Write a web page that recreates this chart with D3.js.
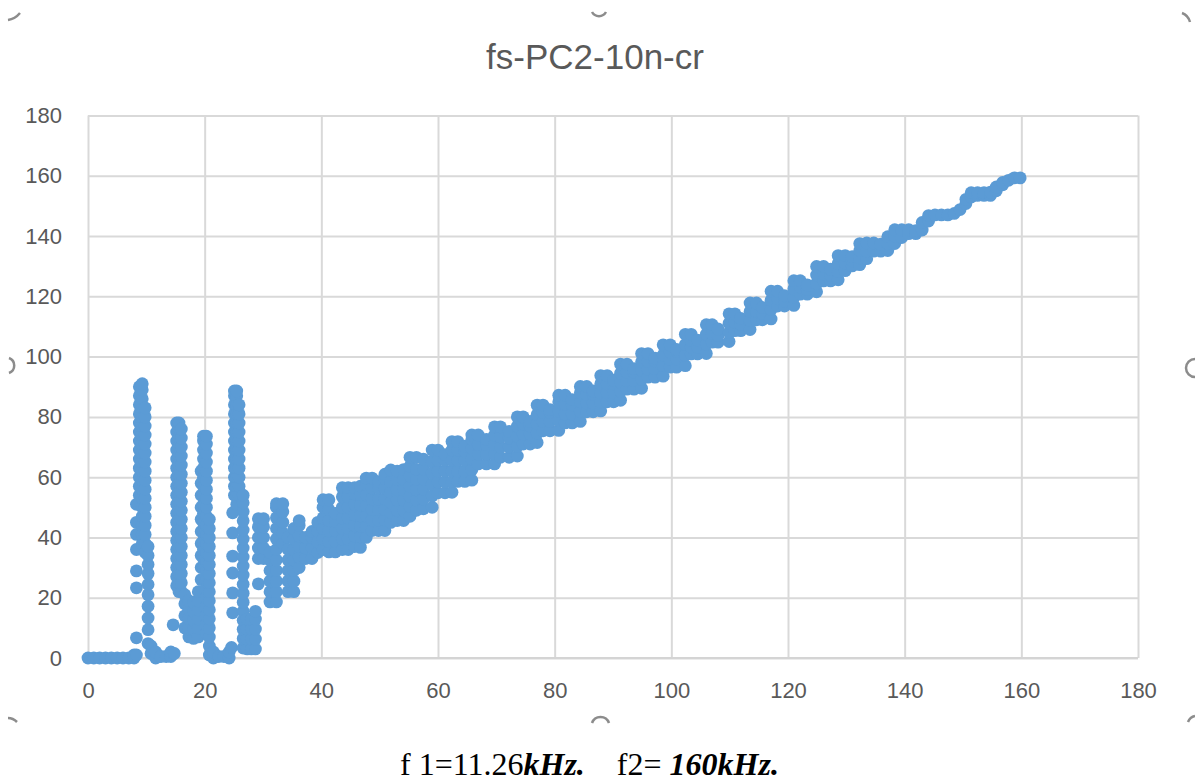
<!DOCTYPE html>
<html><head><meta charset="utf-8">
<script src="https://cdn.jsdelivr.net/npm/d3@7"></script>
<style>body{margin:0;background:#fff}svg{display:block}</style>
</head><body><svg id="c" width="1195" height="781"></svg>
<script>
const chartTitle = "fs-PC2-10n-cr";
const xTicks = [0, 20, 40, 60, 80, 100, 120, 140, 160, 180];
const yTicks = [0, 20, 40, 60, 80, 100, 120, 140, 160, 180];

// each entry: [x, [y values observed at that x]]
const baseCols = [[0,[0]],[1,[0]],[2,[0]],[3,[0]],[4,[0]],[5,[0]],[6,[0]],[7,[0]],[7.9,[0,1]]];
const spike1Cols = [
  [8.3,[1,6.7,23.3,28.9,36,41,45,51]],
  [8.8,[54,57,60,63,66,69,72,75,78,81,84,87,90]],
  [9.3,[38,41,44,47,50,53,56,59,62,65,68,71,74,77,80,83,86,89,91]],
  [9.8,[35,38,41,44,47,50,53,56,59,62,65,68,71,74,77,80,83]],
  [10.3,[4.8,9.4,13.3,17.2,21,24.4,28,31,34,37]],
  [10.8,[1.5,4]],[11.6,[0,2]],[12.5,[0.5]],[13.4,[0.5]],[14.2,[0.5,2]],[14.8,[1.5]]
];
const spike2Cols = [
  [14.6,[11]],
  [15.2,[24,27,30,33,36,39,42,45,48,51,54,57,60,63,66,69,72,75,78]],
  [15.6,[22,25,28,31,34,37,40,43,46,49,52,55,58,61,64,67,70,73,76,78]],
  [16.0,[22,25,28,31,34,37,40,43,46,49,52,55,58,61,64,67,70,73,76]],
  [16.6,[10,14,18,21]],[17.3,[7,10,13,16,19]],[18.1,[6.5,9.5,12.5,15.5,18.5]],[18.9,[7,10,13,16,19,22]]
];
const spike3Cols = [
  [19.4,[26,30,34,38,42,46,50,54,58,62]],
  [19.8,[30,33,36,39,42,45,48,51,54,57,60,63,66,69,72,73.6]],
  [20.3,[8,11,14,17,20,23,26,29,32,35,38,41,44,47,50,53,56,59,62,65,68,71,73.6]],
  [20.8,[1,4,7,10,13,16,19,22,25,28,31,34,37,40,43,46]],
  [21.5,[0,2]],[22.4,[0.5]],[23.3,[0.5]],[24.2,[0,2]],[24.6,[3.5]]
];
const spike4Cols = [
  [24.8,[15,21.6,28.2,33.8,41.5,48.2]],
  [25.1,[54,57,60,63,66,69,72,75,78,81,84,87,88.6]],
  [25.5,[51,54,57,60,63,66,69,72,75,78,81,84,87,88.6]],
  [25.9,[54,57,60,63,66,69,72,75,78,81,84]],
  [26.6,[3.3,6.5,9.5,12.5,15.5,18.5,21.5,24.5,27.5,30.5,33.5,36.5,39.5,42.5,45.5,48.5,51.5,54]],
  [27.3,[3,6.3,9.6,12.9]],[28.0,[3,6.3,9.6,12.9]],[28.7,[3,6.3,9.6,12.9,15.5]]
];
const transitionCols = [
  [29.2,[24.6,33,36.5,40,43.5,46.2]],[30.1,[33,36.5,40,43.5,46.2]],
  [31.2,[18.6,22,25.5,29,32.5,35]],[32.3,[18.6,22,25.5,29,32.5,36,39.5,43,46.5,50,51.2]],
  [33.4,[38,41.5,45,48.5,51.2]],[34.3,[22,25.5,29,32.5,36,40]],
  [35.3,[22,25.5,29,32.5,36,39.5,43]],[36.2,[30,33.5,37,40.5,44,45.6]],
  [37.3,[33,36.5,40]],[38.4,[33,36.5,40,42]],[39.4,[35,38.5,42,45]],
  [40.3,[36,39.5,43,46.5,50,52.5]],[41.3,[35.2,38.7,42.2,45.7,49.2,52.5]],
  [42.4,[35.2,38.7,42.2,45.5,48]],[43.6,[36,39.5,43,46.5,50,53.5,56.5]],
  [44.6,[36,39.5,43,46.5,50,53.5,56.5]],
  [45.7,[37,40.5,44,47.5,51,54.5,56.5]],[46.7,[36.7,40.2,43.7,47.2,50.7,54.2,57]],
  [47.7,[40,43.5,47,50.5,54,57.5,59.7]],[48.7,[42.3,45.8,49.3,52.8,56.3,59.7]],
  [49.8,[42.3,45.8,49.3,52.8,56.3,58.5]],[50.9,[42.3,45.8,49.3,52.8,56.3,59.5,61]],
  [51.9,[45,48.3,51.6,55,58.5,62.4]],[53.0,[45.6,49,52.4,55.8,59.2,62]],
  [54.1,[45.6,49,52.4,55.8,59.2,62.5]],[55.2,[47,50.3,53.6,57,60.4,63.6,66.6]],
  [56.3,[49,52.4,55.8,59.2,62.6,66.6]],[57.5,[49.5,52.8,56.1,59.4,62.7,66]]
];
const bandColsA = [
  [59,[50,53.8,57.6,61.4,65.2,69]],[60,[54.8,58.4,62,65.5,69]],[61.2,[54.8,58.4,62,65.5,67.5]],
  [62.4,[55,58.5,62,65.5,69,71.8]],[63.4,[58.6,62,65.5,69,71.8]],[64.6,[58.6,62,65.5,68.5,70.3]],
  [65.8,[59,62.5,66,69.5,72.5,74]],[66.9,[64.4,67.6,70.8,74]],[68.3,[64.4,67.6,70.8,72.5]],
  [69.7,[64.4,67.6,70.8,74,76.7]],[70.7,[66.6,70,73.4,76.7]],[72.2,[66.6,70,73,75.2]],
  [73.6,[67,70.3,73.6,76.9,80]],[74.6,[71,74.3,77.6,80]],[75.8,[71,74.3,77,78.5]],
  [77,[71.5,74.6,77.7,80.8,83.9]],[78,[75.4,78.5,81.5,83.9]],[79.2,[75.4,78.5,81.5,82.4]],
  [80.7,[75.5,78.8,82,85,87.2]],[81.8,[78,81,84.2,87.2]],[83,[78,81,84,85.7]],
  [84.4,[78.5,81.8,85,88,90.1]],[85.5,[81.7,84.6,87.5,90.1]],[86.6,[81.7,84.6,87.5,88.6]],
  [87.9,[82,85,88,91,93.7]],[89,[85,88,91,93.7]],[90.1,[85,88,91,92.2]],
  [91.3,[85.5,88.5,91.5,94.5,97.5]],[92.4,[89.2,92,94.8,97.5]],[93.6,[89.2,92,94.8,96]],
  [94.9,[89.5,92.5,95.5,98.3,101]],[96,[93.2,95.8,98.4,101]],[97.2,[93.2,96,98.5,99.5]]
];
const bandColsB = [
  [98.6,[93.5,97,100.5,103.9]],[99.8,[96.5,99,101.5,103.9]],[100.9,[96.5,99.2,101.8,102.4]],
  [102.4,[97,100.5,104,107.4]],[103.4,[100.9,103.1,105.3,107.4]],[104.5,[100.9,103.2,105.5]],
  [106,[101,104.2,107.4,110.6]],[107,[104.8,107.7,110.6]],[108,[104.8,107,109.2]],
  [109.9,[105,108,111.1,114.2]],[110.9,[108.6,111.4,114.2]],[111.9,[108.6,110.7,112.7]],
  [113.5,[109,112,115,117.8]],[114.6,[112.2,115,117.8]],[115.6,[112.2,114.3,116.3]],
  [117.1,[112.5,115.6,118.7,121.7]],[118.2,[116.8,119.2,121.7]],[119.4,[116.8,118.5,120.2]],
  [121,[117,119.7,122.5,125.2]],[122.1,[120.7,123,125.2]],[123.3,[120.7,122.3,123.8]],
  [124.9,[121.5,124.3,127.1,129.9]],[126.1,[125.1,127.5,129.9]],[127.3,[125.1,127,129]],
  [128.6,[125.5,128.2,130.9,133.5]],[129.8,[128.5,131,133.5]],[131,[130.1,131.8,133.2]],
  [132.3,[130.5,132.8,135.2,137.5]],[133.5,[132.5,135,137.7]],[134.7,[135,137.7]],[135.9,[135,137.3]],
  [137.1,[135.2,137.5,139.8]],[138.3,[137.5,140,142.1]],[139.5,[139.5,142.1]],[140.7,[140.8,142.1]],[141.9,[140.8,141.8]],
  [143,[142,144.5]],[144.1,[145,146.8]],[145.2,[147]],[146.3,[147]],[147.4,[147]],[148.5,[147.5]],
  [149.5,[148.8]],[150.5,[150.8,152.2]],[151.4,[153,154.4]],[152.5,[153.5,154.4]],[153.6,[153.5,154.4]],
  [154.7,[153.5,154.6]],[155.7,[155,156.3]],[156.8,[157,157.8]],[157.8,[158.5]],[158.8,[159.3]],[159.8,[159.3]]
];

const allCols = [].concat(baseCols, spike1Cols, spike2Cols, spike3Cols, spike4Cols, transitionCols, bandColsA, bandColsB);
const points = [];
allCols.forEach(([px, ys]) => ys.forEach(py => points.push({x: px, y: py})));

const svg = d3.select("#c");
svg.append("rect").attr("width", 1195).attr("height", 781).attr("fill", "#fff");

const x = d3.scaleLinear().domain([0, 180]).range([88, 1138]);
const y = d3.scaleLinear().domain([0, 180]).range([658, 115.5]);

const fontSans = "'Liberation Sans', Arial, sans-serif";

const gy = svg.append("g").attr("transform", `translate(${x(0)},0)`)
  .call(d3.axisLeft(y).tickValues(yTicks).tickSize(-(x(180) - x(0))).tickPadding(26));
gy.select(".domain").remove();
gy.selectAll(".tick line").attr("stroke", "#d9d9d9").attr("stroke-width", 2);
gy.selectAll(".tick text").attr("fill", "#595959").attr("font-size", 22).attr("font-family", fontSans);

const gx = svg.append("g").attr("transform", `translate(0,${y(0)})`)
  .call(d3.axisBottom(x).tickValues(xTicks).tickSize(-(y(0) - y(180))).tickPadding(24));
gx.select(".domain").remove();
gx.selectAll(".tick line").attr("stroke", "#d9d9d9").attr("stroke-width", 2);
gx.selectAll(".tick text").attr("fill", "#595959").attr("font-size", 22).attr("font-family", fontSans);

svg.append("line").attr("x1", x(0)).attr("x2", x(180)).attr("y1", y(0)).attr("y2", y(0))
  .attr("stroke", "#d4d4d4").attr("stroke-width", 2);

svg.append("g").selectAll("circle").data(points).join("circle")
  .attr("cx", d => x(d.x)).attr("cy", d => y(d.y)).attr("r", 6.4)
  .attr("fill", "#5B9BD5");

svg.append("text").attr("x", 595).attr("y", 69).attr("text-anchor", "middle")
  .attr("font-family", fontSans).attr("font-size", 35).attr("fill", "#595959").text(chartTitle);

const handles = [
  "M8,20 Q15,19 20,13", "M592,12 A8,8 0 0 0 606,12", "M1182,13 Q1188,15 1190,22",
  "M9,358 A8,8 0 0 1 9,373", "M1195,359 A8,8 0 0 0 1195,377",
  "M8,718 Q13,718 17,722", "M592,723 A9,9 0 0 1 609,723", "M1188,722 Q1190,717 1195,716"
];
svg.append("g").selectAll("path").data(handles).join("path").attr("d", d => d)
  .attr("fill", "none").attr("stroke", "#8c8c8c").attr("stroke-width", 2.5);

const cap = svg.append("text").attr("x", 400).attr("y", 775)
  .attr("font-family", "'Liberation Serif', 'Times New Roman', serif").attr("font-size", 32)
  .attr("fill", "#000").style("white-space", "pre");
cap.append("tspan").text("f 1=11.26");
cap.append("tspan").attr("font-weight", "bold").attr("font-style", "italic").text("kHz.");
cap.append("tspan").text("    f2= ");
cap.append("tspan").attr("font-weight", "bold").attr("font-style", "italic").text("160kHz.");
</script>
</body></html>
